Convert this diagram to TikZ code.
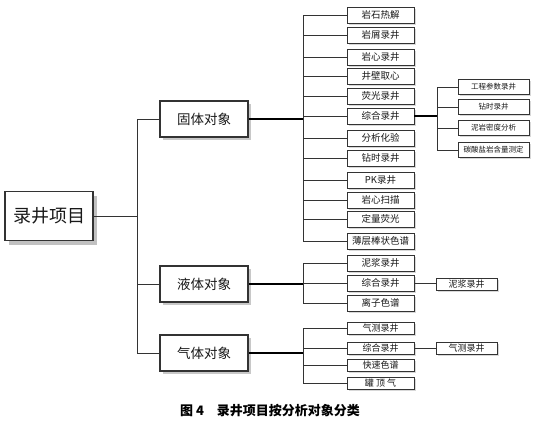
\documentclass[tikz,border=0pt]{standalone}
\usepackage{fontspec}
\setmainfont{Noto Sans CJK SC}
\usetikzlibrary{shadows}
\tikzset{
  box/.style={draw=black!80, fill=white, inner sep=0pt, text=black!90},
  rootbox/.style={box, line width=1.6pt, minimum width=88pt, minimum height=49pt,
    font=\fontsize{18}{20}\selectfont,
    drop shadow={shadow xshift=4pt, shadow yshift=-4pt, fill=black!30, opacity=.8}},
  catbox/.style={box, line width=1.5pt, minimum width=88pt, minimum height=36pt,
    font=\fontsize{13.5}{15}\selectfont,
    drop shadow={shadow xshift=3pt, shadow yshift=-3pt, fill=black!30, opacity=.7}},
  leafbox/.style={box, line width=.9pt, minimum width=67pt, minimum height=16pt,
    font=\fontsize{9.5}{10}\selectfont,
    drop shadow={shadow xshift=1.5pt, shadow yshift=-1.5pt, fill=black!25, opacity=.6}},
  subbox/.style={leafbox, minimum width=71pt, minimum height=15pt, font=\fontsize{7.5}{8}\selectfont},
  link/.style={line width=.9pt, draw=black!80},
  thicklink/.style={line width=1.5pt, draw=black}
}
\begin{document}
\begin{tikzpicture}[x=1pt,y=-1pt]
\useasboundingbox[fill=white] (0,0) rectangle (536,426);
% root and categories
\node[rootbox] (root) at (49,216) {录井项目};
\node[catbox] (solid) at (204,119) {固体对象};
\node[catbox] (liquid) at (204,284) {液体对象};
\node[catbox] (gas) at (204,353) {气体对象};
\coordinate (j0) at (137,216);
\draw[link] (root.east) -- (j0);
\draw[link] (j0 |- solid) -- (j0 |- gas);
\foreach \c in {solid,liquid,gas} \draw[link] (j0 |- \c) -- (\c.west);
% solid objects
\foreach \n/\t/\y in {s1/岩石热解/15, s2/岩屑录井/35, s3/岩心录井/57, s4/井壁取心/76,
  s5/荧光录井/96, s6/综合录井/116, s7/分析化验/138, s8/钻时录井/158, s9/PK录井/180,
  s10/岩心扫描/200, s11/定量荧光/219, s12/薄层棒状色谱/241}
  \node[leafbox] (\n) at (380.5,\y) {\t};
\coordinate (j1) at (303,119);
\draw[thicklink] (solid.east) -- (j1);
\draw[link] (j1 |- s1) -- (j1 |- s12);
\foreach \n in {s1,s2,s3,s4,s5,s6,s7,s8,s9,s10,s11,s12} \draw[link] (j1 |- \n) -- (\n.west);
\foreach \n/\t/\y in {t1/工程参数录井/87, t2/钻时录井/107, t3/泥岩密度分析/128, t4/碳酸盐岩含量测定/150}
  \node[subbox] (\n) at (493.5,\y) {\t};
\coordinate (j3) at (437,116);
\draw[thicklink] (s6.east) -- (j3);
\draw[link] (j3 |- t1) -- (j3 |- t4);
\foreach \n in {t1,t2,t3,t4} \draw[link] (j3 |- \n) -- (\n.west);
% liquid objects
\foreach \n/\t/\y in {l1/泥浆录井/263, l2/综合录井/283, l3/离子色谱/303}
  \node[leafbox] (\n) at (380.5,\y) {\t};
\coordinate (j2) at (303,284);
\draw[thicklink] (liquid.east) -- (j2);
\draw[link] (j2 |- l1) -- (j2 |- l3);
\foreach \n in {l1,l2,l3} \draw[link] (j2 |- \n) -- (\n.west);
\node[leafbox, minimum width=61pt, minimum height=12pt, font=\fontsize{9}{10}\selectfont] (lsub) at (466.5,284) {泥浆录井};
\draw[link] (l2.east) -- (l2.east -| lsub.west);
% gas objects
\foreach \n/\t/\y in {g1/气测录井/328, g2/综合录井/348, g3/快速色谱/365, g4/罐\ 顶\ 气/383}
  \node[leafbox, minimum height=12pt, font=\fontsize{9}{10}\selectfont] (\n) at (380.5,\y) {\t};
\coordinate (j4) at (303,353);
\draw[thicklink] (gas.east) -- (j4);
\draw[link] (j4 |- g1) -- (j4 |- g4);
\foreach \n in {g1,g2,g3,g4} \draw[link] (j4 |- \n) -- (\n.west);
\node[leafbox, minimum width=61pt, minimum height=12pt, font=\fontsize{9}{10}\selectfont] (gsub) at (466.5,348) {气测录井};
\draw[link] (g2.east) -- (g2.east -| gsub.west);
% caption
\node[font=\fontsize{13}{14}\selectfont\bfseries] (cap) at (270,411) {图 4\hspace{1em}录井项目按分析对象分类};
\end{tikzpicture}
\end{document}
